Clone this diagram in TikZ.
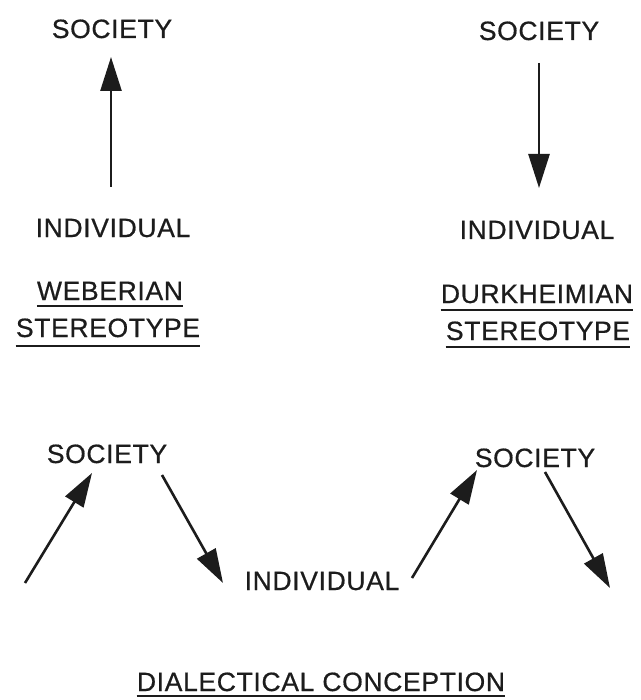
\documentclass[tikz,border=0pt]{standalone}
\usepackage{fontspec}
\setmainfont{Liberation Sans}[LetterSpace=2.5, FakeBold=0.6]
\usetikzlibrary{arrows.meta,calc}

\definecolor{ink}{HTML}{1C1C1C}

\tikzset{
  lbl/.style={anchor=base, inner sep=0pt, text=ink, font=\fontsize{26.5}{32}\selectfont},
  arr/.style={draw=ink, line width=2.6pt, -{Triangle[length=34pt,width=21pt]}},
  uline/.style={draw=ink, line width=1.8pt}
}

\begin{document}
\begin{tikzpicture}[x=1pt, y=-1pt]
  \fill[white] (0,0) rectangle (640,700);
  \useasboundingbox (0,0) rectangle (640,700);

  % Weberian stereotype
  \node[lbl] (socA) at (112,38) {SOCIETY};
  \node[lbl] (indA) at (113,237) {INDIVIDUAL};
  \node[lbl] (webA) at (110,300) {WEBERIAN};
  \node[lbl] (steA) at (108,337) {STEREOTYPE};
  \draw[arr] ($(indA.base)+(-2,-50)$) -- ($(socA.base)+(-1,19)$);
  \draw[uline] ($(webA.base west)+(0,6)$) -- ($(webA.base east)+(0,6)$);
  \draw[uline] ($(steA.base west)+(0,9)$) -- ($(steA.base east)+(0,9)$);

  % Durkheimian stereotype
  \node[lbl] (socB) at (539,40) {SOCIETY};
  \node[lbl] (indB) at (537,239) {INDIVIDUAL};
  \node[lbl] (durB) at (537,303) {DURKHEIMIAN};
  \node[lbl] (steB) at (538,340) {STEREOTYPE};
  \draw[arr] ($(socB.base)+(0,23)$) -- ($(indB.base)+(2,-51)$);
  \draw[uline] ($(durB.base west)+(0,7)$) -- ($(durB.base east)+(0,7)$);
  \draw[uline] ($(steB.base west)+(0,7)$) -- ($(steB.base east)+(0,7)$);

  % Dialectical conception
  \node[lbl] (socC) at (107,463) {SOCIETY};
  \node[lbl] (indC) at (322,590) {INDIVIDUAL};
  \node[lbl] (socD) at (535,467) {SOCIETY};
  \node[lbl] (title) at (321,691) {DIALECTICAL CONCEPTION};
  \coordinate (inL) at (25,583);
  \coordinate (outR) at (610,588);
  \draw[arr] (inL) -- ($(socC.base)+(-15,10)$);
  \draw[arr] ($(socC.base)+(55,12)$) -- ($(indC.base)+(-99,-7)$);
  \draw[arr] ($(indC.base)+(90,-12)$) -- ($(socD.base)+(-58,3)$);
  \draw[arr] ($(socD.base)+(10,5)$) -- (outR);
  \draw[uline] ($(title.base west)+(0,5)$) -- ($(title.base east)+(0,5)$);
\end{tikzpicture}
\end{document}
